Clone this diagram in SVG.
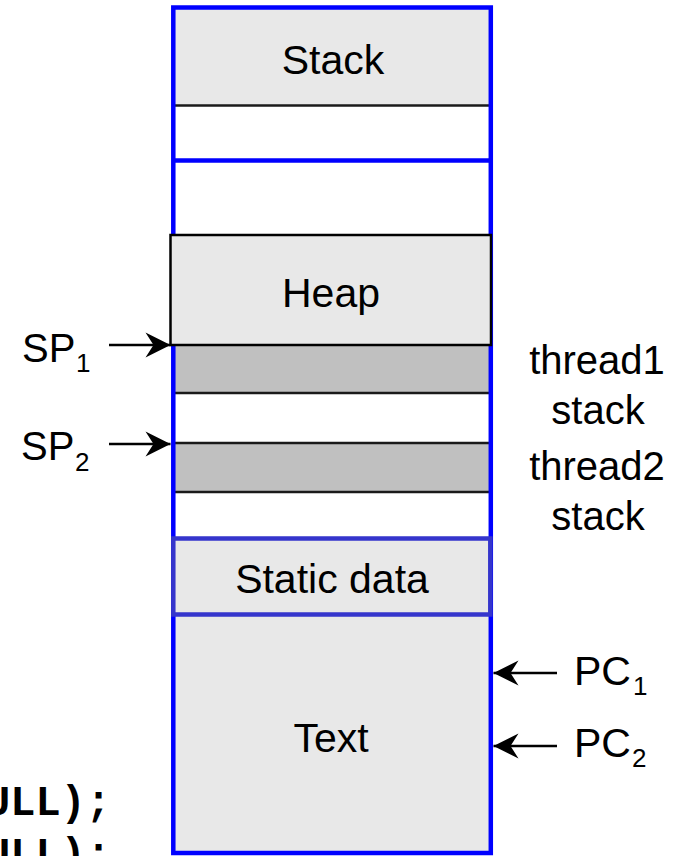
<svg xmlns="http://www.w3.org/2000/svg" width="683" height="856" viewBox="0 0 683 856">
  <style>
    .lbl { font-family: "Liberation Sans", Arial, sans-serif; font-size: 41px; fill: #000; }
    .mid { text-anchor: middle; }
    .sub { font-family: "Liberation Sans", Arial, sans-serif; font-size: 26px; fill: #000; }
    .code { font-family: "Liberation Mono", "Courier New", monospace; font-weight: bold; font-size: 42px; fill: #000; }
    .light { fill: #e8e8e8; }
    .band { fill: #c0c0c0; }
    .sep { stroke: #1a1a1a; stroke-width: 2.5; fill: none; }
    .frame { stroke: #0000ff; stroke-width: 4.5; fill: none; }
    .conn { stroke: #000; stroke-width: 2.5; fill: none; }
  </style>
  <defs>
    <marker id="head" markerUnits="userSpaceOnUse" viewBox="-27 -14 28 28" refX="0" refY="0" markerWidth="28" markerHeight="28" orient="auto">
      <path d="M0,0 L-25,-12.5 L-17,0 L-25,12.5 Z" fill="#000"/>
    </marker>
  </defs>

  <rect width="683" height="856" fill="#fff"/>

  <!-- address space column -->
  <g id="stack">
    <rect class="light" x="173" y="8" width="318" height="97"/>
    <line class="sep" x1="173" y1="105.5" x2="493" y2="105.5"/>
    <text class="lbl mid" x="333" y="74">Stack</text>
  </g>

  <g id="thread-stacks">
    <rect class="band" x="173" y="345" width="318" height="48"/>
    <rect class="band" x="173" y="443" width="318" height="49"/>
    <line class="sep" x1="173" y1="393" x2="491" y2="393"/>
    <line class="sep" x1="173" y1="443" x2="491" y2="443"/>
    <line class="sep" x1="173" y1="492" x2="491" y2="492"/>
  </g>

  <g id="text-seg">
    <rect class="light" x="173" y="615" width="318" height="238"/>
    <text class="lbl mid" x="331" y="752">Text</text>
  </g>

  <g id="outline">
    <rect class="frame" x="173.3" y="7.5" width="317.5" height="845.5"/>
    <line class="frame" x1="173" y1="160.5" x2="491" y2="160.5"/>
  </g>

  <g id="heap">
    <rect class="light" x="170.5" y="235" width="320.5" height="110" stroke="#000" stroke-width="2.5"/>
    <text class="lbl mid" x="331" y="306.5">Heap</text>
  </g>

  <g id="static-data">
    <rect class="light" x="173.3" y="538.5" width="317" height="76" stroke="#3535cc" stroke-width="4.5"/>
    <text class="lbl mid" x="332" y="592.5">Static data</text>
  </g>

  <!-- side labels -->
  <g id="thread-labels">
    <text class="lbl mid" x="597" y="374" style="font-size:40px">thread1</text>
    <text class="lbl mid" x="598" y="424" style="font-size:40px">stack</text>
    <text class="lbl mid" x="597" y="480" style="font-size:40px">thread2</text>
    <text class="lbl mid" x="598" y="530" style="font-size:40px">stack</text>
  </g>

  <g id="sp1">
    <text class="lbl" x="22" y="362" style="font-size:40px">SP</text>
    <text class="sub" x="76" y="372">1</text>
  </g>
  <g id="sp2">
    <text class="lbl" x="21" y="460" style="font-size:40px">SP</text>
    <text class="sub" x="75" y="471">2</text>
  </g>
  <g id="pc1">
    <text class="lbl" x="574" y="685">PC</text>
    <text class="sub" x="633" y="695">1</text>
  </g>
  <g id="pc2">
    <text class="lbl" x="574" y="757">PC</text>
    <text class="sub" x="632" y="767">2</text>
  </g>

  <!-- pointer arrows -->
  <g id="connectors">
    <line class="conn" x1="109" y1="345" x2="170.5" y2="345" marker-end="url(#head)"/>
    <line class="conn" x1="109" y1="444" x2="170.5" y2="444" marker-end="url(#head)"/>
    <line class="conn" x1="557" y1="673" x2="493.5" y2="673" marker-end="url(#head)"/>
    <line class="conn" x1="557" y1="746" x2="493.5" y2="746" marker-end="url(#head)"/>
  </g>

  <!-- code fragment at the lower left -->
  <g id="code">
    <text class="code" x="111" y="815" text-anchor="end">ULL);</text>
    <text class="code" x="111" y="867" text-anchor="end">ULL);</text>
  </g>
</svg>
